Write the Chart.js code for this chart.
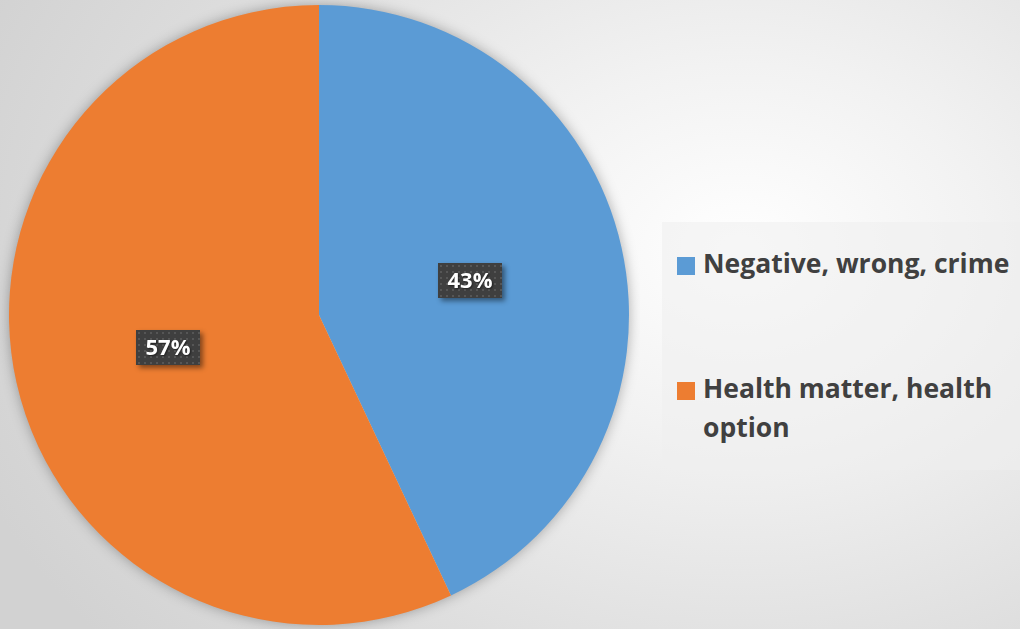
<!DOCTYPE html>
<html>
<head>
<meta charset="utf-8">
<script src="https://cdn.jsdelivr.net/npm/chart.js@4.4.1/dist/chart.umd.min.js"></script>
<style>
    html, body {
        margin: 0;
        padding: 0;
        width: 1020px;
        height: 629px;
        overflow: hidden;
    }
    body {
        position: relative;
        background: radial-gradient(ellipse 820px 620px at 740px 250px, #ffffff 0%, #f2f2f2 30%, #dedede 70%, #d2d2d2 100%);
        font-family: "Open Sans", sans-serif;
    }
    #wrap {
        position: absolute;
        left: 0;
        top: 0;
        width: 640px;
        height: 629px;
    }
    #legend {
        position: absolute;
        left: 662px;
        top: 222px;
        width: 358px;
        height: 248px;
        background: rgba(238, 238, 238, 0.55);
        box-sizing: border-box;
        padding: 22px 0 0 15px;
    }
    .item {
        display: flex;
        align-items: flex-start;
        margin-bottom: 86px;
    }
    .swatch {
        width: 18px;
        height: 18px;
        margin-top: 13px;
        margin-right: 8px;
        flex: none;
    }
    .text {
        font-weight: 700;
        font-size: 26.5px;
        line-height: 39px;
        color: #404040;
        width: 312px;
    }
</style>
</head>
<body>
<div id="wrap"><canvas id="pieChart"></canvas></div>
<div id="legend"></div>

<script>
const labels = ["Negative, wrong, crime", "Health matter, health option"];
const shares = [43, 57];
const colors = ["#5B9BD5", "#ED7D31"];

// dotted fill used behind the percentage labels
function makeDots() {
    let c = document.createElement("canvas");
    c.width = 6;
    c.height = 6;
    let g = c.getContext("2d");
    g.fillStyle = "#3f3f3f";
    g.fillRect(0, 0, 6, 6);
    g.fillStyle = "#565656";
    g.fillRect(2, 2, 2, 2);
    return c;
}

const pieShadow = {
    id: "pieShadow",
    beforeDatasetsDraw(chart) {
        let arc = chart.getDatasetMeta(0).data[0];
        if (!arc) return;
        let ctx = chart.ctx;
        ctx.save();
        ctx.shadowColor = "rgba(0, 0, 0, 0.35)";
        ctx.shadowBlur = 14;
        ctx.fillStyle = "#d0d0d0";
        ctx.beginPath();
        ctx.arc(arc.x, arc.y, arc.outerRadius - 1, 0, Math.PI * 2);
        ctx.fill();
        ctx.restore();
    }
};

const valueBoxes = {
    id: "valueBoxes",
    afterDatasetsDraw(chart) {
        let ctx = chart.ctx;
        let pattern = ctx.createPattern(makeDots(), "repeat");
        let meta = chart.getDatasetMeta(0);
        ctx.save();
        ctx.font = "bold 22px 'Open Sans'";
        ctx.textAlign = "center";
        ctx.textBaseline = "middle";
        meta.data.forEach((arc, i) => {
            let pos = arc.tooltipPosition();
            let text = shares[i] + "%";
            let w = 64, h = 35;
            let x = Math.round(pos.x - w / 2), y = Math.round(pos.y - h / 2) - 1;

            ctx.save();
            ctx.shadowColor = "rgba(0, 0, 0, 0.45)";
            ctx.shadowBlur = 5;
            ctx.shadowOffsetX = 3;
            ctx.shadowOffsetY = 3;
            ctx.fillStyle = "#3f3f3f";
            ctx.fillRect(x, y, w, h);
            ctx.restore();

            ctx.save();
            ctx.translate(x, y);
            ctx.fillStyle = pattern;
            ctx.fillRect(0, 0, w, h);
            ctx.restore();

            ctx.save();
            ctx.shadowColor = "rgba(0, 0, 0, 0.5)";
            ctx.shadowBlur = 2;
            ctx.shadowOffsetX = 1;
            ctx.shadowOffsetY = 1;
            ctx.fillStyle = "#ffffff";
            ctx.fillText(text, x + w / 2, y + h / 2 + 1);
            ctx.restore();
        });
        ctx.restore();
    }
};

function buildLegend() {
    let box = document.getElementById("legend");
    labels.forEach((label, i) => {
        let row = document.createElement("div");
        row.className = "item";
        let sw = document.createElement("div");
        sw.className = "swatch";
        sw.style.background = colors[i];
        let tx = document.createElement("div");
        tx.className = "text";
        tx.innerText = label;
        row.appendChild(sw);
        row.appendChild(tx);
        box.appendChild(row);
    });
}

let pieChart = new Chart(document.getElementById("pieChart"), {
    type: "pie",
    data: {
        labels: labels,
        datasets: [{
            data: shares,
            backgroundColor: colors,
            borderWidth: 0
        }]
    },
    options: {
        responsive: true,
        maintainAspectRatio: false,
        animation: false,
        layout: {
            padding: { left: 9, right: 11, top: 5, bottom: 4 }
        },
        plugins: {
            legend: { display: false },
            tooltip: { enabled: false }
        }
    },
    plugins: [pieShadow, valueBoxes]
});

buildLegend();
</script>
</body>
</html>
